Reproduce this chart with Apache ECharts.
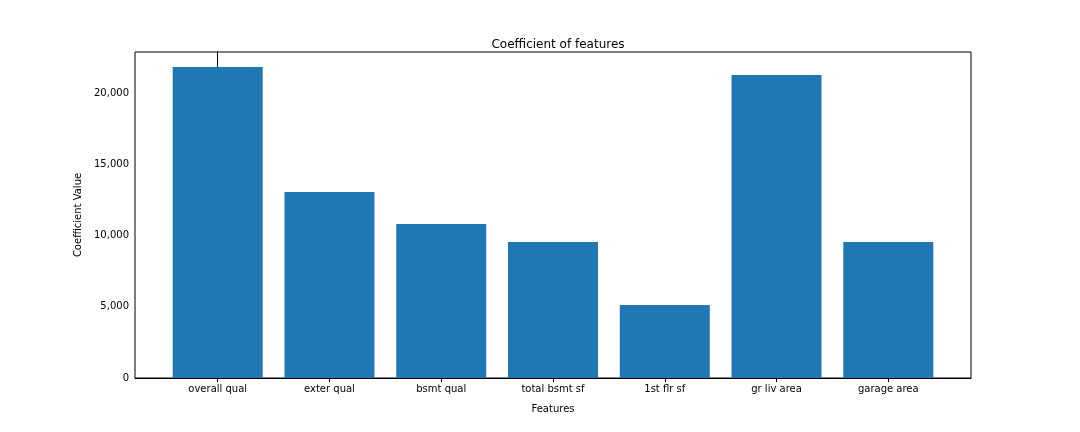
<!DOCTYPE html>
<html>
<head>
<meta charset="utf-8">
<script src="https://cdn.jsdelivr.net/npm/echarts@6/dist/echarts.min.js"></script>
<style>html,body{margin:0;padding:0;background:#fff}</style>
</head>
<body>
<div id="chart" style="width:1080px;height:432px"></div>
<script>
const features = ['overall qual', 'exter qual', 'bsmt qual', 'total bsmt sf', '1st flr sf', 'gr liv area', 'garage area'];
const coefs = [21830, 13050, 10810, 9540, 5120, 21260, 9540];
const yTicks = [0, 5000, 10000, 15000, 20000];

const chart = echarts.init(document.getElementById('chart'));
const font = 'DejaVu Sans';
chart.setOption({
    animation: false,
    title: {
        text: 'Coefficient of features', left: 553, top: 34, textAlign: 'center',
        textStyle: { fontFamily: font, fontSize: 12, fontWeight: 'normal', color: '#000' }
    },
    grid: { left: 135, right: 109, top: 52, bottom: 54, show: true, borderColor: '#000', borderWidth: 1 },
    xAxis: {
        type: 'value', min: -0.74, max: 6.74,
        name: 'Features', nameLocation: 'middle', nameGap: 26,
        nameTextStyle: { fontFamily: font, fontSize: 10, color: '#000' },
        splitLine: { show: false },
        axisLine: { show: true, lineStyle: { color: '#000' } },
        axisTick: { show: true, length: 4, customValues: features.map((f, i) => i), lineStyle: { color: '#000' } },
        axisLabel: {
            customValues: features.map((f, i) => i),
            formatter: v => features[Math.round(v)],
            fontFamily: font, fontSize: 10, color: '#000', margin: 6
        }
    },
    yAxis: {
        type: 'value', min: 0, max: 22877,
        name: 'Coefficient Value', nameLocation: 'middle', nameGap: 46,
        nameTextStyle: { fontFamily: font, fontSize: 10, color: '#000' },
        splitLine: { show: false },
        axisLine: { show: true, lineStyle: { color: '#000' } },
        axisTick: { show: true, length: 4, customValues: yTicks, lineStyle: { color: '#000' } },
        axisLabel: { customValues: yTicks, fontFamily: font, fontSize: 10, color: '#000', margin: 6 }
    },
    series: [{
        type: 'bar',
        barWidth: 90,
        itemStyle: { color: '#1f77b4' },
        data: coefs.map((c, i) => [i, c])
    }]
});
</script>
</body>
</html>
